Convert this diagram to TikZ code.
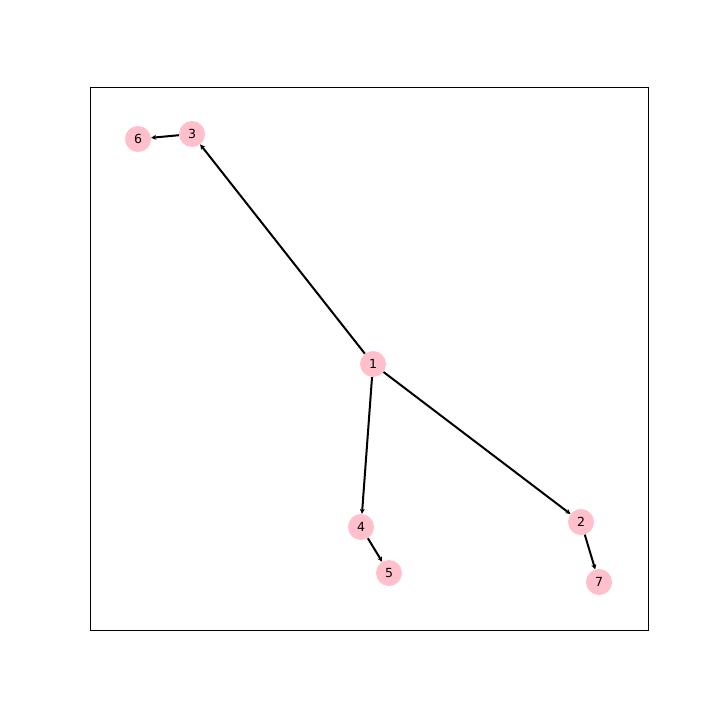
\documentclass[tikz,border=0pt]{standalone}
\usepackage{fontspec}
\setmainfont{DejaVu Sans}
\usetikzlibrary{arrows.meta}
\definecolor{nodepink}{RGB}{255,192,203}
\tikzset{
  vert/.style={circle,fill=nodepink,minimum size=26pt,inner sep=0pt,font=\fontsize{12.5}{14}\selectfont},
  edge/.style={line width=2pt,-{Stealth[length=5pt,width=5pt]}}
}
\begin{document}
\begin{tikzpicture}[x=1pt,y=-1pt]
\useasboundingbox (0,0) rectangle (720,720);
\draw[line width=0.8pt] (90,87) rectangle (648,630);
% nodes
\node[vert] (n1) at (373,364) {1};
\node[vert] (n2) at (581,522) {2};
\node[vert] (n3) at (192,134) {3};
\node[vert] (n4) at (361,527) {4};
\node[vert] (n5) at (389,573) {5};
\node[vert] (n6) at (138,139) {6};
\node[vert] (n7) at (599,582) {7};
% edges
\foreach \a/\b in {n1/n3,n1/n4,n1/n2,n3/n6,n4/n5,n2/n7}
  \draw[edge] (\a) -- (\b);
\end{tikzpicture}
\end{document}
